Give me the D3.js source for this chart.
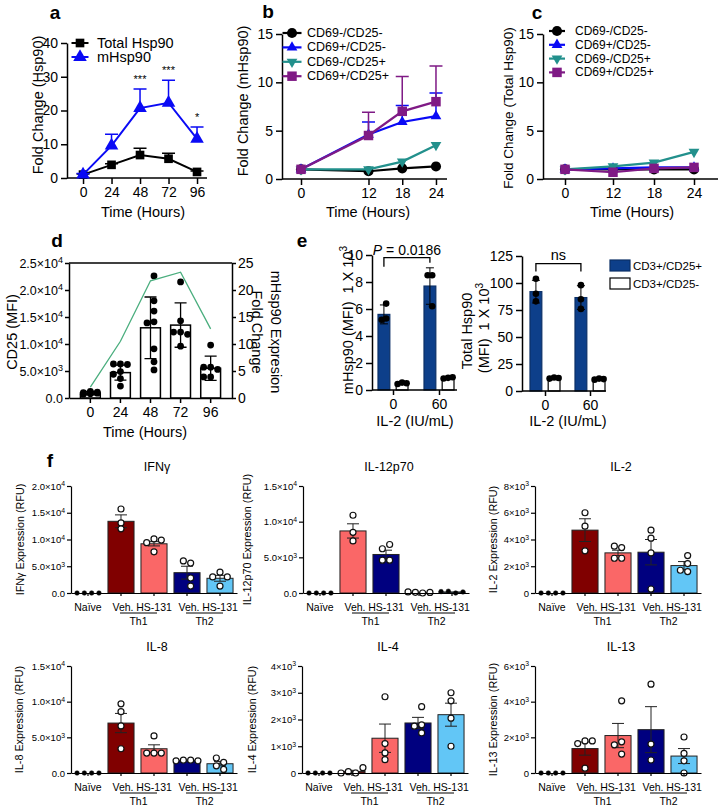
<!DOCTYPE html>
<html>
<head>
<meta charset="utf-8">
<script src="https://cdn.jsdelivr.net/npm/d3@7"></script>
<style>
    body { margin: 0; background: #fff; }
    text { white-space: pre; }
</style>
</head>
<body>
<div id="fig"></div>
<script>
// ---------- data ----------
const hoursA = [0, 24, 48, 72, 96]
const totalHsp90 = [1, 3.9, 6.8, 5.7, 1.8]
const totalHsp90Err = [0.2, 0.3, 2.0, 1.6, 0.3]
const mHsp90 = [1, 9.6, 20.7, 22.3, 11.6]
const mHsp90Err = [0.3, 3.4, 5.7, 6.7, 3.5]
const sigA = ['', '', '***', '***', '*']

const hoursBC = [0, 12, 18, 24]
const subsetNames = ['CD69-/CD25-', 'CD69+/CD25-', 'CD69-/CD25+', 'CD69+/CD25+']
const mFoldNegNeg = [1, 0.8, 1.1, 1.3]
const mFoldPosNeg = [1, 4.6, 5.9, 6.5]
const mFoldPosNegErr = [0, 1.3, 1.7, 2.4]
const mFoldNegPos = [1, 1.0, 1.8, 3.5]
const mFoldPosPos = [1, 4.5, 7.0, 8.0]
const mFoldPosPosErr = [0, 2.4, 3.6, 3.7]
const tFoldNegNeg = [1, 1.0, 1.0, 1.0]
const tFoldPosNeg = [1, 1.1, 1.2, 1.2]
const tFoldNegPos = [1, 1.3, 1.7, 2.8]
const tFoldPosPos = [1, 0.7, 1.1, 1.2]

const hoursD = [0, 24, 48, 72, 96]
const cd25Mean = [900, 4700, 13000, 13500, 5500]
const cd25Sd = [300, 1400, 5700, 4100, 2250]
const cd25Dots = [
    [1200, 1000, 900, 1100, 800, 700, 1000],
    [6300, 6300, 6200, 4900, 4400, 3600, 2200],
    [22600, 18000, 16100, 14100, 13900, 9100, 6700, 5200],
    [21500, 14300, 12200, 12200, 11800, 9600],
    [9800, 5700, 5700, 5300, 3900, 3900],
]
const mHspFoldD = [2, 10.5, 21.7, 23.3, 12.8]

const doseLevels = ['0', '60']
const cd3Groups = ['CD3+/CD25+', 'CD3+/CD25-']
const mHspPos = [5.6, 7.7]
const mHspPosSd = [0.7, 1.35]
const mHspPosDots = [[6.4, 5.3, 5.2], [8.5, 8.5, 6.2]]
const mHspNeg = [0.5, 0.9]
const mHspNegSd = [0.05, 0.05]
const mHspNegDots = [[0.55, 0.45, 0.5], [0.9, 0.85, 0.95]]
const totHspPos = [92, 86.5]
const totHspPosSd = [10.5, 11]
const totHspPosDots = [[104, 90, 83], [98, 85, 76]]
const totHspNeg = [12, 11]
const totHspNegSd = [1, 1]
const totHspNegDots = [[12.5, 11.5, 12], [11.5, 10.5, 11]]

const fGroups = ['Naïve', 'Veh. Th1', 'HS-131 Th1', 'Veh. Th2', 'HS-131 Th2']
const ifngMean = [0, 13400, 9200, 3800, 2750]
const ifngSem = [0, 1200, 400, 1200, 550]
const ifngDots = [[0, 0, 0, 0], [15700, 13100, 12000], [10100, 9400, 9900, 7700], [5600, 6000, 2800, 1300], [3900, 3000, 3000, 1300]]
const il12Mean = [0, 8700, 5400, 80, 150]
const il12Sem = [0, 1000, 600, 0, 0]
const il12Dots = [[0, 0, 0, 0], [10900, 8500, 7300], [6800, 6200, 4600, 4600], [0, 100, 80, 150], [0, 250, 150, 200]]
const il2Mean = [0, 4700, 3000, 3050, 2050]
const il2Sem = [0, 850, 200, 950, 300]
const il2Dots = [[0, 0, 0, 0], [6000, 5000, 3150], [3400, 3500, 2600, 2600], [4700, 4100, 3000, 300], [2800, 2200, 1600, 1700]]
const il8Mean = [0, 7000, 3400, 1750, 1300]
const il8Sem = [0, 1350, 550, 60, 300]
const il8Dots = [[0, 0, 0, 0], [9700, 8600, 6600, 3400], [5200, 2800, 2800, 2800], [1800, 1800, 1700, 1700], [1500, 2100, 1000, 500]]
const il4Mean = [0, 60, 1300, 1870, 2180]
const il4Sem = [0, 40, 530, 210, 430]
const il4Dots = [[0, 0, 0, 0], [0, 50, 200, 0], [2850, 1100, 750, 500], [2480, 1800, 1750, 1500], [3000, 2700, 2050, 1000]]
const il13Mean = [0, 1370, 2100, 2430, 950]
const il13Sem = [0, 370, 680, 1290, 420]
const il13Dots = [[0, 0, 0, 0], [1800, 1650, 1800, 270], [4050, 1750, 1580, 1060], [4980, 1620, 730], [2020, 1100, 680, 0]]

// ---------- setup ----------
const FONT = "'Liberation Sans', Arial, Helvetica, sans-serif"
const barColors = ['#000', '#800000', '#fa6767', '#00007f', '#62c6f6']
const il12Colors = ['#000', '#fa6767', '#00007f', '#800000', '#62c6f6']

const svg = d3.select('#fig').append('svg')
    .attr('width', 723)
    .attr('height', 808)
    .style('font-family', FONT)
svg.append('rect').attr('width', 723).attr('height', 808).attr('fill', '#fff')

function styleAxis(g, size, sw = 1.5) {
    g.attr('font-family', FONT).attr('font-size', size)
    g.selectAll('path, line').attr('stroke', '#000').attr('stroke-width', sw)
    g.selectAll('text').attr('fill', '#000')
}

function label(txt, x, y, size, opts = {}) {
    return svg.append('text')
        .attr('transform', `translate(${x},${y}) rotate(${opts.rot || 0})`)
        .attr('text-anchor', opts.anchor || 'middle')
        .attr('dominant-baseline', 'central')
        .attr('font-size', size)
        .attr('font-weight', opts.bold ? 'bold' : null)
        .text(txt)
}

// text with a trailing superscript
function supLabel(base, sup, x, y, size, rot) {
    const t = label('', x, y, size, {rot})
    t.append('tspan').text(base)
    t.append('tspan').attr('dy', '-0.45em').attr('font-size', '0.7em').text(sup)
    return t
}

function sciTicks(sel, decimals) {
    sel.each(function (d) {
        const t = d3.select(this).text(null)
        if (d === 0) { t.text(decimals ? (0).toFixed(decimals) : '0'); return }
        const e = Math.floor(Math.log10(d) + 1e-9)
        t.append('tspan').text((d / 10 ** e).toFixed(decimals) + '×10')
        t.append('tspan').attr('dy', '-0.45em').attr('font-size', '0.72em').text(e)
    })
}

// simple beeswarm: horizontal offsets so dots don't sit on each other
function swarm(values, y, minDist, step, maxDx) {
    const placed = []
    values.forEach(v => {
        const cy = y(v)
        const cands = [0]
        for (let i = 1; i * step <= maxDx + 0.01; i++) cands.push(-i * step, i * step)
        let best = 0, bestD = -1
        for (const dx of cands) {
            const dmin = d3.min(placed, p => Math.hypot(p.dx - dx, p.cy - cy))
            if (dmin === undefined || dmin >= minDist) { best = dx; break }
            if (dmin > bestD) { bestD = dmin; best = dx }
        }
        placed.push({v, cy, dx: best})
    })
    const shift = (d3.min(placed, p => p.dx) + d3.max(placed, p => p.dx)) / 2
    placed.forEach(p => p.dx -= shift)
    return placed
}

// ---------- line charts (a, b, c) ----------
function lineChart(o) {
    const g = svg.append('g')
    const yAx = g.append('g').attr('transform', `translate(${o.xExtent[0]},0)`)
        .call(d3.axisLeft(o.y).tickValues(o.yTicks).tickSize(6).tickPadding(3).tickSizeOuter(0))
    styleAxis(yAx, o.tickFont)
    const xAx = g.append('g').attr('transform', `translate(0,${o.y(0)})`)
        .call(d3.axisBottom(o.x).tickValues(o.xTicks).tickSize(6).tickPadding(3).tickSizeOuter(0))
    xAx.select('.domain').attr('d', `M${o.xExtent[0]},0H${o.xExtent[1]}`)
    styleAxis(xAx, o.tickFont)

    o.series.forEach(s => {
        const pts = o.xTicks.map((t, i) => ({t, v: s.values[i], e: s.err ? s.err[i] : 0}))
        g.append('g').selectAll('path').data(pts.filter(p => p.e > 0)).join('path')
            .attr('d', p => `M${o.x(p.t)},${o.y(p.v)}V${o.y(p.v + p.e)}M${o.x(p.t) - o.capW / 2},${o.y(p.v + p.e)}H${o.x(p.t) + o.capW / 2}`)
            .attr('fill', 'none').attr('stroke', s.color).attr('stroke-width', 1.5)
        g.append('path').datum(pts)
            .attr('d', d3.line().x(p => o.x(p.t)).y(p => o.y(p.v)))
            .attr('fill', 'none').attr('stroke', s.color).attr('stroke-width', o.lineW)
        g.append('g').selectAll('path').data(pts).join('path')
            .attr('transform', p => `translate(${o.x(p.t)},${o.y(p.v)}) rotate(${s.rot || 0})`)
            .attr('d', d3.symbol(s.symbol, s.size))
            .attr('fill', s.color)
    })

    // legend
    o.series.forEach((s, i) => {
        const ly = o.legend.y + i * o.legend.dy
        svg.append('line')
            .attr('x1', o.legend.x - o.legend.len / 2).attr('x2', o.legend.x + o.legend.len / 2)
            .attr('y1', ly).attr('y2', ly)
            .attr('stroke', s.color).attr('stroke-width', o.lineW)
        svg.append('path')
            .attr('transform', `translate(${o.legend.x},${ly}) rotate(${s.rot || 0})`)
            .attr('d', d3.symbol(s.symbol, s.size))
            .attr('fill', s.color)
        label(s.name, o.legend.tx, ly, o.legend.font, {anchor: 'start'})
    })
    return g
}

// panel a
const xA = d3.scaleLinear([-13.5, 104.4], [67, 207])
const yA = d3.scaleLinear([0, 40], [178, 43])
const gA = lineChart({
    x: xA, y: yA, xTicks: hoursA, yTicks: [0, 10, 20, 30, 40], xExtent: [67, 207],
    tickFont: 14, capW: 13, lineW: 2,
    series: [
        {name: 'Total Hsp90', values: totalHsp90, err: totalHsp90Err, color: '#000', symbol: d3.symbolSquare, size: 75},
        {name: 'mHsp90', values: mHsp90, err: mHsp90Err, color: '#0a0af5', symbol: d3.symbolTriangle, size: 80},
    ],
    legend: {x: 80, y: 43, dy: 14, len: 17, tx: 97, font: 14.5},
})
gA.append('g').selectAll('text').data(hoursA.map((t, i) => ({t, s: sigA[i], top: mHsp90[i] + mHsp90Err[i]})))
    .join('text')
    .attr('x', d => xA(d.t)).attr('y', d => yA(d.top) - 6)
    .attr('text-anchor', 'middle').attr('font-size', 11)
    .text(d => d.s)
label('Fold Change (Hsp90)', 38, 105, 14.5, {rot: -90})
label('Time (Hours)', 143, 212, 14.5)
label('a', 55, 12, 19, {bold: true})

// panel b
const subsetColors = ['#000', '#0a0af5', '#22908c', '#7f1a85']
const subsetSymbols = [
    {symbol: d3.symbolCircle, size: 80, rot: 0},
    {symbol: d3.symbolTriangle, size: 50, rot: 0},
    {symbol: d3.symbolTriangle, size: 50, rot: 180},
    {symbol: d3.symbolSquare, size: 90, rot: 0},
]
function subsetSeries(vals, errs) {
    return subsetNames.map((n, i) => ({name: n, values: vals[i], err: errs[i], color: subsetColors[i], ...subsetSymbols[i]}))
}
const xB = d3.scaleLinear([-3.38, 25.96], [282, 447])
const yB = d3.scaleLinear([0, 15], [179, 34])
lineChart({
    x: xB, y: yB, xTicks: hoursBC, yTicks: [0, 5, 10, 15], xExtent: [282, 447],
    tickFont: 14, capW: 13, lineW: 2.2,
    series: subsetSeries([mFoldNegNeg, mFoldPosNeg, mFoldNegPos, mFoldPosPos], [null, mFoldPosNegErr, null, mFoldPosPosErr]),
    legend: {x: 292, y: 33, dy: 14.4, len: 19, tx: 307, font: 12.5},
})
label('Fold Change (mHsp90)', 243, 101, 14.5, {rot: -90})
label('Time (Hours)', 368, 212, 14.5)
label('b', 268, 11, 19, {bold: true})

// panel c
const xC = d3.scaleLinear([-5.5, 0, 12, 18, 24, 27.6], [543, 565, 613, 654, 694, 718])
lineChart({
    x: xC, y: yB, xTicks: hoursBC, yTicks: [0, 5, 10, 15], xExtent: [543, 718],
    tickFont: 14, capW: 13, lineW: 2.2,
    series: subsetSeries([tFoldNegNeg, tFoldPosNeg, tFoldNegPos, tFoldPosPos], [null, null, null, null]),
    legend: {x: 557, y: 31, dy: 13.8, len: 16, tx: 575, font: 12},
})
label('Fold Change (Total Hsp90)', 508, 108, 13.5, {rot: -90})
label('Time (Hours)', 632, 212, 14.5)
label('c', 537, 12, 19, {bold: true})

// ---------- panel d ----------
const xD = d3.scaleBand(hoursD, [69, 232]).paddingInner(0.34).paddingOuter(0.38)
const yD = d3.scaleLinear([0, 25000], [398, 263])
const yD2 = d3.scaleLinear([0, 25], [398, 263])
const gD = svg.append('g')
gD.append('g').selectAll('rect').data(cd25Mean).join('rect')
    .attr('x', (d, i) => xD(hoursD[i])).attr('width', xD.bandwidth())
    .attr('y', d => yD(d)).attr('height', d => yD(0) - yD(d))
    .attr('fill', '#fff').attr('stroke', '#000').attr('stroke-width', 1.5)
gD.append('g').selectAll('path').data(cd25Mean).join('path')
    .attr('d', (d, i) => {
        const cx = xD(hoursD[i]) + xD.bandwidth() / 2
        const y1 = yD(d + cd25Sd[i]), y0 = yD(d - cd25Sd[i])
        return `M${cx},${y0}V${y1}M${cx - 6},${y1}H${cx + 6}M${cx - 6},${y0}H${cx + 6}`
    })
    .attr('fill', 'none').attr('stroke', '#000').attr('stroke-width', 1.3)
cd25Dots.forEach((vals, i) => {
    const cx = xD(hoursD[i]) + xD.bandwidth() / 2
    gD.append('g').selectAll('circle').data(swarm(vals, yD, 6.6, 7, 9)).join('circle')
        .attr('cx', p => cx + p.dx).attr('cy', p => p.cy).attr('r', 3.4).attr('fill', '#000')
})
gD.append('path').datum(mHspFoldD)
    .attr('d', d3.line().x((d, i) => xD(hoursD[i]) + xD.bandwidth() / 2).y(d => yD2(d)))
    .attr('fill', 'none').attr('stroke', '#4aae7e').attr('stroke-width', 1.3)
const dLeft = gD.append('g').attr('transform', 'translate(69,0)')
    .call(d3.axisLeft(yD).tickValues(d3.range(0, 25001, 5000)).tickSize(4).tickPadding(2).tickSizeOuter(0))
styleAxis(dLeft, 12.5)
dLeft.selectAll('.tick text').call(sciTicks, 1)
const dRight = gD.append('g').attr('transform', 'translate(232,0)')
    .call(d3.axisRight(yD2).tickValues(d3.range(0, 26, 5)).tickSize(4).tickPadding(2).tickSizeOuter(0))
styleAxis(dRight, 14)
const dBottom = gD.append('g').attr('transform', 'translate(0,398)')
    .call(d3.axisBottom(xD).tickSize(5).tickPadding(4).tickSizeOuter(0))
styleAxis(dBottom, 14)
gD.append('line').attr('x1', 69).attr('x2', 232).attr('y1', 263).attr('y2', 263)
    .attr('stroke', '#000').attr('stroke-width', 1.5)
label('CD25 (MFI)', 12, 332, 14.5, {rot: -90})
label('mHsp90 Expresion', 276, 332, 14.5, {rot: 90})
label('Fold Change', 257, 332, 14.5, {rot: 90})
label('Time (Hours)', 145, 432, 14.5)
label('d', 57, 240, 19, {bold: true})

// ---------- panel e ----------
function doseChart(o) {
    const g = svg.append('g')
    const x = d3.scalePoint(doseLevels, o.centers)
    const sub = d3.scaleBand(cd3Groups, [-15, 15]).paddingInner(0.35)
    const y = d3.scaleLinear([0, o.max], [o.bottom, o.top])
    const sets = [
        {group: cd3Groups[0], mean: o.pos, sd: o.posSd, dots: o.posDots, fill: '#0d3f8a', stroke: '#0a2f66'},
        {group: cd3Groups[1], mean: o.neg, sd: o.negSd, dots: o.negDots, fill: '#fff', stroke: '#000'},
    ]
    sets.forEach(s => {
        doseLevels.forEach((dose, i) => {
            const bx = x(dose) + sub(s.group)
            const cx = bx + sub.bandwidth() / 2
            g.append('rect').attr('x', bx).attr('width', sub.bandwidth())
                .attr('y', y(s.mean[i])).attr('height', y(0) - y(s.mean[i]))
                .attr('fill', s.fill).attr('stroke', s.stroke).attr('stroke-width', 1.2)
            const y1 = y(s.mean[i] + s.sd[i]), y0 = y(s.mean[i] - s.sd[i])
            g.append('path').attr('d', `M${cx},${y0}V${y1}M${cx - 4},${y1}H${cx + 4}M${cx - 4},${y0}H${cx + 4}`)
                .attr('fill', 'none').attr('stroke', '#000').attr('stroke-width', 1)
            g.append('g').selectAll('circle').data(swarm(s.dots[i], y, 5, 4.5, 5)).join('circle')
                .attr('cx', p => cx + p.dx).attr('cy', p => p.cy).attr('r', 3.3).attr('fill', '#000')
        })
    })
    const yAx = g.append('g').attr('transform', `translate(${o.axisX[0]},0)`)
        .call(d3.axisLeft(y).tickValues(o.yTicks).tickSize(6).tickPadding(3).tickSizeOuter(0))
    styleAxis(yAx, 14)
    const xAx = g.append('g').attr('transform', `translate(0,${o.bottom})`)
        .call(d3.axisBottom(x).tickSize(5).tickPadding(4).tickSizeOuter(0))
    xAx.select('.domain').attr('d', `M${o.axisX[0]},0H${o.axisX[1]}`)
    styleAxis(xAx, 14)
    // comparison bracket
    const bx0 = x(doseLevels[0]) + sub(cd3Groups[0]) + sub.bandwidth() / 2
    const bx1 = x(doseLevels[1]) + sub(cd3Groups[0]) + sub.bandwidth() / 2
    const by = y(o.bracket)
    g.append('path').attr('d', `M${bx0},${by + o.drop[0]}V${by}H${bx1}V${by + o.drop[1]}`)
        .attr('fill', 'none').attr('stroke', '#000').attr('stroke-width', 1.3)
    return {g, bx: (bx0 + bx1) / 2, by}
}

const eLeft = doseChart({
    centers: [393, 439], axisX: [372, 457], top: 255, bottom: 390, max: 10, yTicks: [0, 2, 4, 6, 8, 10],
    pos: mHspPos, posSd: mHspPosSd, posDots: mHspPosDots, neg: mHspNeg, negSd: mHspNegSd, negDots: mHspNegDots,
    bracket: 9.8, drop: [9, 5],
})
const pTxt = label('', eLeft.bx, eLeft.by - 8, 14)
pTxt.append('tspan').attr('font-style', 'italic').text('P')
pTxt.append('tspan').text(' = 0.0186')
const eRight = doseChart({
    centers: [545, 590], axisX: [522, 606], top: 256, bottom: 391, max: 125, yTicks: [0, 25, 50, 75, 100, 125],
    pos: totHspPos, posSd: totHspPosSd, posDots: totHspPosDots, neg: totHspNeg, negSd: totHspNegSd, negDots: totHspNegDots,
    bracket: 118, drop: [8, 8],
})
label('ns', eRight.bx, eRight.by - 9, 14.5)
supLabel('mHsp90 (MFI)\u00a0\u00a01 X 10', '3', 348, 320, 14.5, -90)
label('Total Hsp90', 467, 331, 14.5, {rot: -90})
supLabel('(MFI)\u00a0\u00a01 X 10', '3', 484, 328, 14.5, -90)
label('IL-2 (IU/mL)', 415, 421, 14.5)
label('IL-2 (IU/mL)', 568, 421, 14.5)
const legE = [{name: cd3Groups[0], fill: '#0d3f8a', stroke: '#0a2f66'}, {name: cd3Groups[1], fill: '#fff', stroke: '#000'}]
legE.forEach((l, i) => {
    const ly = 260 + i * 18
    svg.append('rect').attr('x', 610).attr('y', ly).attr('width', 20).attr('height', 11)
        .attr('fill', l.fill).attr('stroke', l.stroke).attr('stroke-width', 1.2)
    label(l.name, 633, ly + 6, 11.5, {anchor: 'start'})
})
label('e', 302, 240, 19, {bold: true})

// ---------- panel f ----------
function cytokine(o) {
    const g = svg.append('g')
    const x = d3.scaleBand(fGroups, [o.ax, o.ax + 166]).paddingInner(0.21).paddingOuter(0.12)
    const y = d3.scaleLinear([0, o.max], [o.bottom, o.top])
    const cx = grp => x(grp) + x.bandwidth() / 2
    const rows = fGroups.map((grp, i) => ({grp, m: o.mean[i], s: o.sem[i], color: o.colors[i]}))
    g.append('g').selectAll('rect').data(rows.slice(1)).join('rect')
        .attr('x', d => x(d.grp)).attr('width', x.bandwidth())
        .attr('y', d => y(d.m)).attr('height', d => y(0) - y(d.m))
        .attr('fill', d => d.color).attr('stroke', '#222').attr('stroke-width', 1)
    g.append('g').selectAll('path').data(rows.filter(d => d.s > 0)).join('path')
        .attr('d', d => {
            const c = cx(d.grp), y1 = y(d.m + d.s), y0 = y(Math.max(0, d.m - d.s))
            return `M${c},${y0}V${y1}M${c - 6},${y1}H${c + 6}M${c - 6},${y0}H${c + 6}`
        })
        .attr('fill', 'none').attr('stroke', '#222').attr('stroke-width', 1)
    o.dots.forEach((vals, i) => {
        const filled = i === 0 || o.filled[i]
        g.append('g').selectAll('circle').data(swarm(vals, y, 5.5, 7.3, 15)).join('circle')
            .attr('cx', p => cx(fGroups[i]) + p.dx).attr('cy', p => p.cy).attr('r', filled ? 2.3 : 3)
            .attr('fill', filled ? '#000' : '#fff').attr('stroke', '#111').attr('stroke-width', filled ? 0.5 : 1.2)
    })
    const yAx = g.append('g').attr('transform', `translate(${o.ax},0)`)
        .call(d3.axisLeft(y).tickValues(d3.range(0, o.max + 1, o.step)).tickSize(4).tickPadding(2).tickSizeOuter(0))
    styleAxis(yAx, 9.5, 1.2)
    yAx.selectAll('.tick text').call(sciTicks, o.dec)
    const xAx = g.append('g').attr('transform', `translate(0,${o.bottom})`)
        .call(d3.axisBottom(x).tickSize(3).tickFormat('').tickSizeOuter(0))
    styleAxis(xAx, 10, 1.2)
    // group labels
    const short = ['Naïve', 'Veh.', 'HS-131', 'Veh.', 'HS-131']
    fGroups.forEach((grp, i) => label(short[i], cx(grp) + (i === 1 || i === 3 ? 2 : 0), o.bottom + 14, 10.5))
    ;[['Th1', 1, 2], ['Th2', 3, 4]].forEach(([t, a, b]) => {
        const xa = cx(fGroups[a]) - 1, xb = cx(fGroups[b]) + 3
        g.append('line').attr('x1', xa).attr('x2', xb).attr('y1', o.bottom + 20).attr('y2', o.bottom + 20)
            .attr('stroke', '#000').attr('stroke-width', 1)
        label(t, (xa + xb) / 2, o.bottom + 27.5, 10.5)
    })
    label(o.title, o.ax + 86, o.top - 19, 12.5)
    label(o.ylab, o.ax - o.labOff, (o.top + o.bottom) / 2, 10.8, {rot: -90})
}

const noFill = [false, false, false, false, false]
cytokine({title: 'IFNγ', ylab: 'IFNγ Expression (RFU)', ax: 71, top: 486, bottom: 593, max: 20000, step: 5000, dec: 1,
    mean: ifngMean, sem: ifngSem, dots: ifngDots, colors: barColors, filled: noFill, labOff: 51})
cytokine({title: 'IL-12p70', ylab: 'IL-12p70 Expression (RFU)', ax: 303, top: 486, bottom: 593, max: 15000, step: 5000, dec: 1,
    mean: il12Mean, sem: il12Sem, dots: il12Dots, colors: il12Colors, filled: [false, false, false, false, true], labOff: 56})
cytokine({title: 'IL-2', ylab: 'IL-2 Expression (RFU)', ax: 535, top: 486, bottom: 593, max: 8000, step: 2000, dec: 0,
    mean: il2Mean, sem: il2Sem, dots: il2Dots, colors: barColors, filled: noFill, labOff: 42})
cytokine({title: 'IL-8', ylab: 'IL-8 Expression (RFU)', ax: 71, top: 666, bottom: 773, max: 15000, step: 5000, dec: 1,
    mean: il8Mean, sem: il8Sem, dots: il8Dots, colors: barColors, filled: noFill, labOff: 52})
cytokine({title: 'IL-4', ylab: 'IL-4 Expression (RFU)', ax: 302, top: 666, bottom: 773, max: 4000, step: 1000, dec: 0,
    mean: il4Mean, sem: il4Sem, dots: il4Dots, colors: barColors, filled: noFill, labOff: 50})
cytokine({title: 'IL-13', ylab: 'IL-13 Expression (RFU)', ax: 535, top: 666, bottom: 773, max: 6000, step: 2000, dec: 0,
    mean: il13Mean, sem: il13Sem, dots: il13Dots, colors: barColors, filled: noFill, labOff: 42})
label('f', 50, 460, 19, {bold: true})
</script>
</body>
</html>
